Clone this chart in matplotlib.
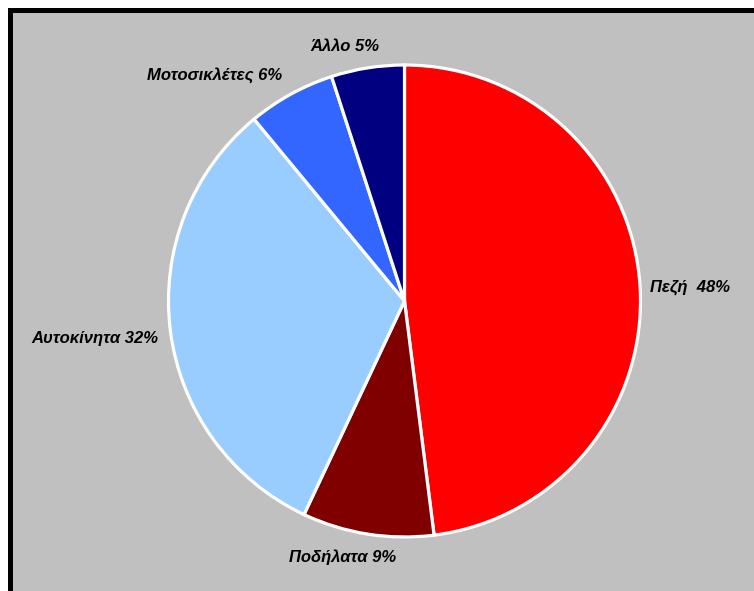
import numpy as np
import matplotlib.pyplot as plt
from matplotlib.patches import Rectangle

# share of trips by mode
modes = ['Πεζή', 'Ποδήλατα', 'Αυτοκίνητα', 'Μοτοσικλέτες', 'Άλλο']
shares = [48, 9, 32, 6, 5]
label_texts = ['Πεζή  48%', 'Ποδήλατα 9%', 'Αυτοκίνητα 32%', 'Μοτοσικλέτες 6%', 'Άλλο 5%']
colors = ['#FF0000', '#800000', '#99CCFF', '#3366FF', '#000080']

# label placement: offset in pixels from the wedge edge, horizontal alignment
label_offsets = [(10, -1), (-25, -23), (-12, -8), (-9, 19), (12, 21)]
label_ha = ['left', 'center', 'right', 'right', 'right']

W, H = 754, 591
fig = plt.figure(figsize=(W / 100, H / 100), dpi=100)
fig.patch.set_facecolor('white')

# grey chart area with heavy black frame, running off the right and bottom
frame = Rectangle((9.5 / W, -0.1), 1.2, (H - 9.5) / H + 0.1,
                  transform=fig.transFigure, facecolor='#C0C0C0',
                  edgecolor='black', linewidth=3.6, zorder=-1)
fig.patches.append(frame)

cx, cy, r = 404.5, 301, 236
ax = fig.add_axes([(cx - r) / W, (H - cy - r) / H, 2 * r / W, 2 * r / H])
ax.set_facecolor('none')
ax.set_zorder(1)

wedges, _ = ax.pie(shares, colors=colors, startangle=90, counterclock=False,
                   radius=1.0,
                   wedgeprops=dict(edgecolor='white', linewidth=2.3))
ax.set_xlim(-1, 1)
ax.set_ylim(-1, 1)
ax.axis('off')

for w, txt, (ox, oy), ha in zip(wedges, label_texts, label_offsets, label_ha):
    ang = np.deg2rad((w.theta1 + w.theta2) / 2)
    ax.annotate(txt, xy=(np.cos(ang), np.sin(ang)),
                xytext=(ox * 0.72, oy * 0.72), textcoords='offset points',
                ha=ha, va='center', fontsize=12, fontweight='bold',
                fontstyle='italic', family='Liberation Sans', color='black',
                annotation_clip=False)

fig.savefig('out.png', dpi=100, facecolor=fig.get_facecolor())
